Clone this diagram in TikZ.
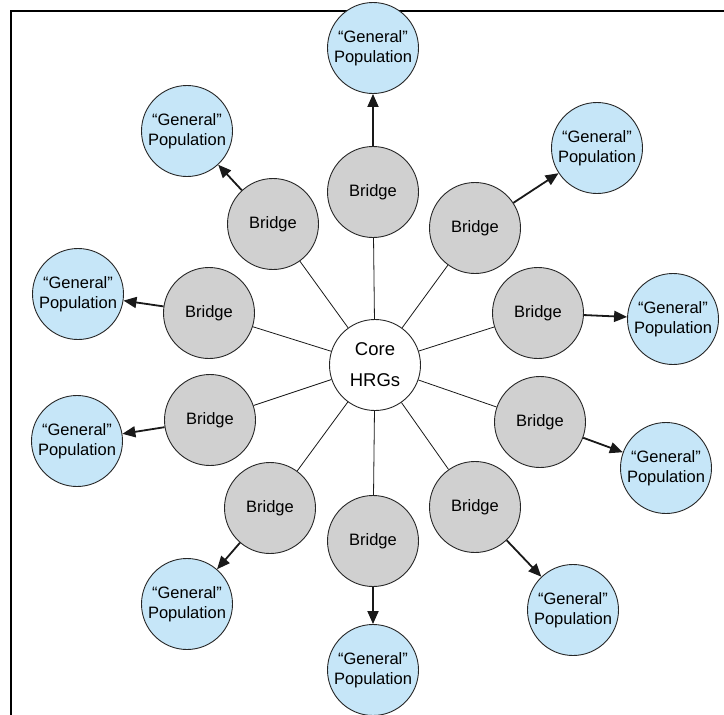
\documentclass[tikz,border=0pt]{standalone}
\usepackage{fontspec}
\setmainfont{Liberation Sans}
\usetikzlibrary{arrows.meta}
\definecolor{bridgegray}{RGB}{208,208,208}
\definecolor{popblue}{RGB}{198,230,248}
\begin{document}
\begin{tikzpicture}[x=1pt,y=-1pt,
  circ/.style={circle,draw=black!85,line width=0.9pt,minimum size=91pt,inner sep=0pt,align=center},
  core/.style={circ,fill=white,font=\fontsize{18.5}{31}\selectfont},
  bridge/.style={circ,fill=bridgegray,font=\fontsize{16.5}{20}\selectfont},
  pop/.style={circ,fill=popblue,font=\fontsize{16.5}{20}\selectfont},
  spoke/.style={line width=0.8pt,black!90},
  outlink/.style={line width=1.8pt,black!90,-{Triangle[length=13pt,width=11pt]}}
]
\useasboundingbox (0,0) rectangle (724,715);
% frame along the top and left
\draw[line width=2.5pt] (11,715) -- (11,11) -- (724,11);

% centre
\node[core] (core) at (375,365) {Core\\HRGs};

% bridges, clockwise from the top
\node[bridge] (b1)  at (373,192) {Bridge};
\node[bridge] (b2)  at (475,228) {Bridge};
\node[bridge] (b3)  at (538,313) {Bridge};
\node[bridge] (b4)  at (540,422) {Bridge};
\node[bridge] (b5)  at (475,507) {Bridge};
\node[bridge] (b6)  at (373,541) {Bridge};
\node[bridge] (b7)  at (270,508) {Bridge};
\node[bridge] (b8)  at (210,420) {Bridge};
\node[bridge] (b9)  at (209,313) {Bridge};
\node[bridge] (b10) at (273,224) {Bridge};

% general populations
\node[pop] (p1)  at (373,48)  {“General”\\Population};
\node[pop] (p2)  at (597,148) {“General”\\Population};
\node[pop] (p3)  at (673,319) {“General”\\Population};
\node[pop] (p4)  at (666,468) {“General”\\Population};
\node[pop] (p5)  at (573,610) {“General”\\Population};
\node[pop] (p6)  at (373,670) {“General”\\Population};
\node[pop] (p7)  at (187,604) {“General”\\Population};
\node[pop] (p8)  at (77,441)  {“General”\\Population};
\node[pop] (p9)  at (78,294)  {“General”\\Population};
\node[pop] (p10) at (187,131) {“General”\\Population};

% spokes and outward links
\foreach \i in {1,...,10} {
  \draw[spoke] (core) -- (b\i);
  \draw[outlink] (b\i) -- (p\i);
}
\end{tikzpicture}
\end{document}
